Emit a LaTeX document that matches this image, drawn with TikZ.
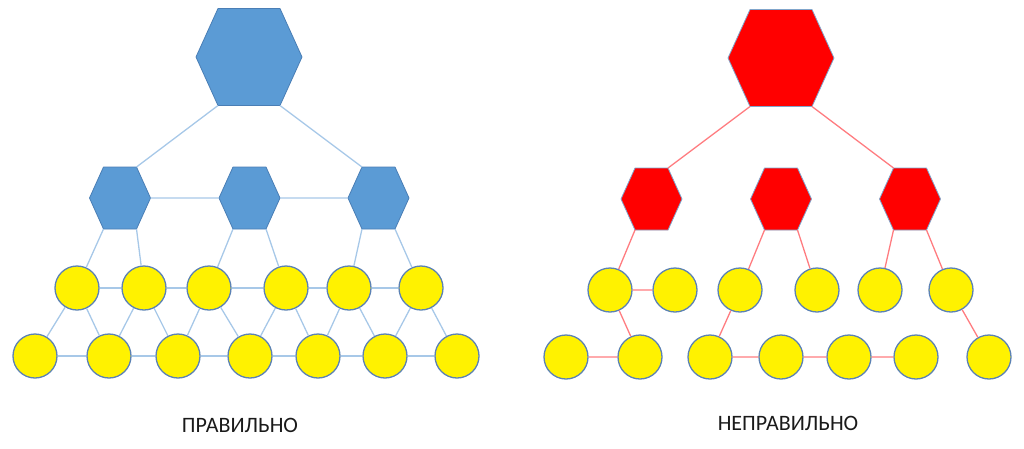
\documentclass[tikz,border=0pt]{standalone}
\usepackage{fontspec}
\setmainfont{Carlito}
\definecolor{hexblue}{HTML}{5B9BD5}
\definecolor{hexedge}{HTML}{4A7EB5}
\definecolor{lineblue}{HTML}{A7C8E8}
\definecolor{linered}{HTML}{FF7C80}
\definecolor{circedge}{RGB}{92,130,180}
\definecolor{txt}{HTML}{1A1A1A}
\newcommand{\hexa}[7]{%
  \path[#7] ({#2-#4},#3) coordinate (#1-l) -- ({#2-#5},{#3-#6}) coordinate (#1-tl)
    -- ({#2+#5},{#3-#6}) coordinate (#1-tr) -- ({#2+#4},#3) coordinate (#1-r)
    -- ({#2+#5},{#3+#6}) coordinate (#1-br) -- ({#2-#5},{#3+#6}) coordinate (#1-bl) -- cycle;
}
\begin{document}
\begin{tikzpicture}[x=1pt,y=-1pt,
  bluehex/.style={fill=hexblue,draw=hexedge,line width=0.8pt,line join=round},
  redhex/.style={fill=red,draw=hexedge!70,line width=0.8pt,line join=round},
  ball/.style={circle,fill=yellow,draw=circedge,line width=1.3pt,minimum size=44pt,inner sep=0pt},
  blink/.style={draw=lineblue,line width=1.3pt},
  rlink/.style={draw=linered,line width=1.3pt},
  lbl/.style={font=\fontsize{22}{26}\selectfont,text=txt,inner sep=0pt}]
\useasboundingbox (0,0) rectangle (1024,448);
% ---------- left ----------
\foreach \x [count=\i] in {77,144,209,286,349,421} \node[ball] (la\i) at (\x,288) {};
\foreach \x [count=\i] in {35,109,178,250,318,385,457} \node[ball] (lb\i) at (\x,356) {};
\hexa{LT}{249}{57}{53}{31}{48.5}{bluehex}
\hexa{LH1}{120}{198}{30.5}{16.5}{31}{bluehex}
\hexa{LH2}{249.5}{198}{30.5}{16.5}{31}{bluehex}
\hexa{LH3}{378.5}{198}{30.5}{16.5}{31}{bluehex}
\path[blink] (LT-bl) -- (LH1-tr) (LT-br) -- (LH3-tl)
  (LH1-r) -- (LH2-l) (LH2-r) -- (LH3-l)
  (LH1-bl) -- (la1) (LH1-br) -- (la2)
  (LH2-bl) -- (la3) (LH2-br) -- (la4)
  (LH3-bl) -- (la5) (LH3-br) -- (la6);
\path[blink] (la1) -- (la2) (la2) -- (la3) (la3) -- (la4) (la4) -- (la5) (la5) -- (la6);
\path[blink] (lb1) -- (lb2) (lb2) -- (lb3) (lb3) -- (lb4) (lb4) -- (lb5) (lb5) -- (lb6) (lb6) -- (lb7);
\path[blink] (la1) -- (lb1) (la1) -- (lb2) (la2) -- (lb2) (la2) -- (lb3)
  (la3) -- (lb3) (la3) -- (lb4) (la4) -- (lb4) (la4) -- (lb5)
  (la5) -- (lb5) (la5) -- (lb6) (la6) -- (lb6) (la6) -- (lb7);
\node[lbl] (lt) at (240,425) {ПРАВИЛЬНО};
% ---------- right ----------
\foreach \x [count=\i] in {610,675,740,817,880,951} \node[ball] (ra\i) at (\x,290) {};
\foreach \x [count=\i] in {566,640,710,781,849,916,989} \node[ball] (rb\i) at (\x,357) {};
\hexa{RT}{781}{58}{53}{31}{48.5}{redhex}
\hexa{RH1}{651.5}{199}{30.5}{16.5}{31}{redhex}
\hexa{RH2}{781}{199}{30.5}{16.5}{31}{redhex}
\hexa{RH3}{910}{199}{30.5}{16.5}{31}{redhex}
\path[rlink] (RT-bl) -- (RH1-tr) (RT-br) -- (RH3-tl)
  (RH1-bl) -- (ra1)
  (RH2-bl) -- (ra3) (RH2-br) -- (ra4)
  (RH3-bl) -- (ra5) (RH3-br) -- (ra6);
\path[rlink] (ra1) -- (ra2) (ra1) -- (rb2) (ra3) -- (rb3) (ra6) -- (rb7)
  (rb1) -- (rb2) (rb3) -- (rb4) (rb4) -- (rb5) (rb5) -- (rb6);
\node[lbl] (rt) at (788,423) {НЕПРАВИЛЬНО};
\end{tikzpicture}
\end{document}
